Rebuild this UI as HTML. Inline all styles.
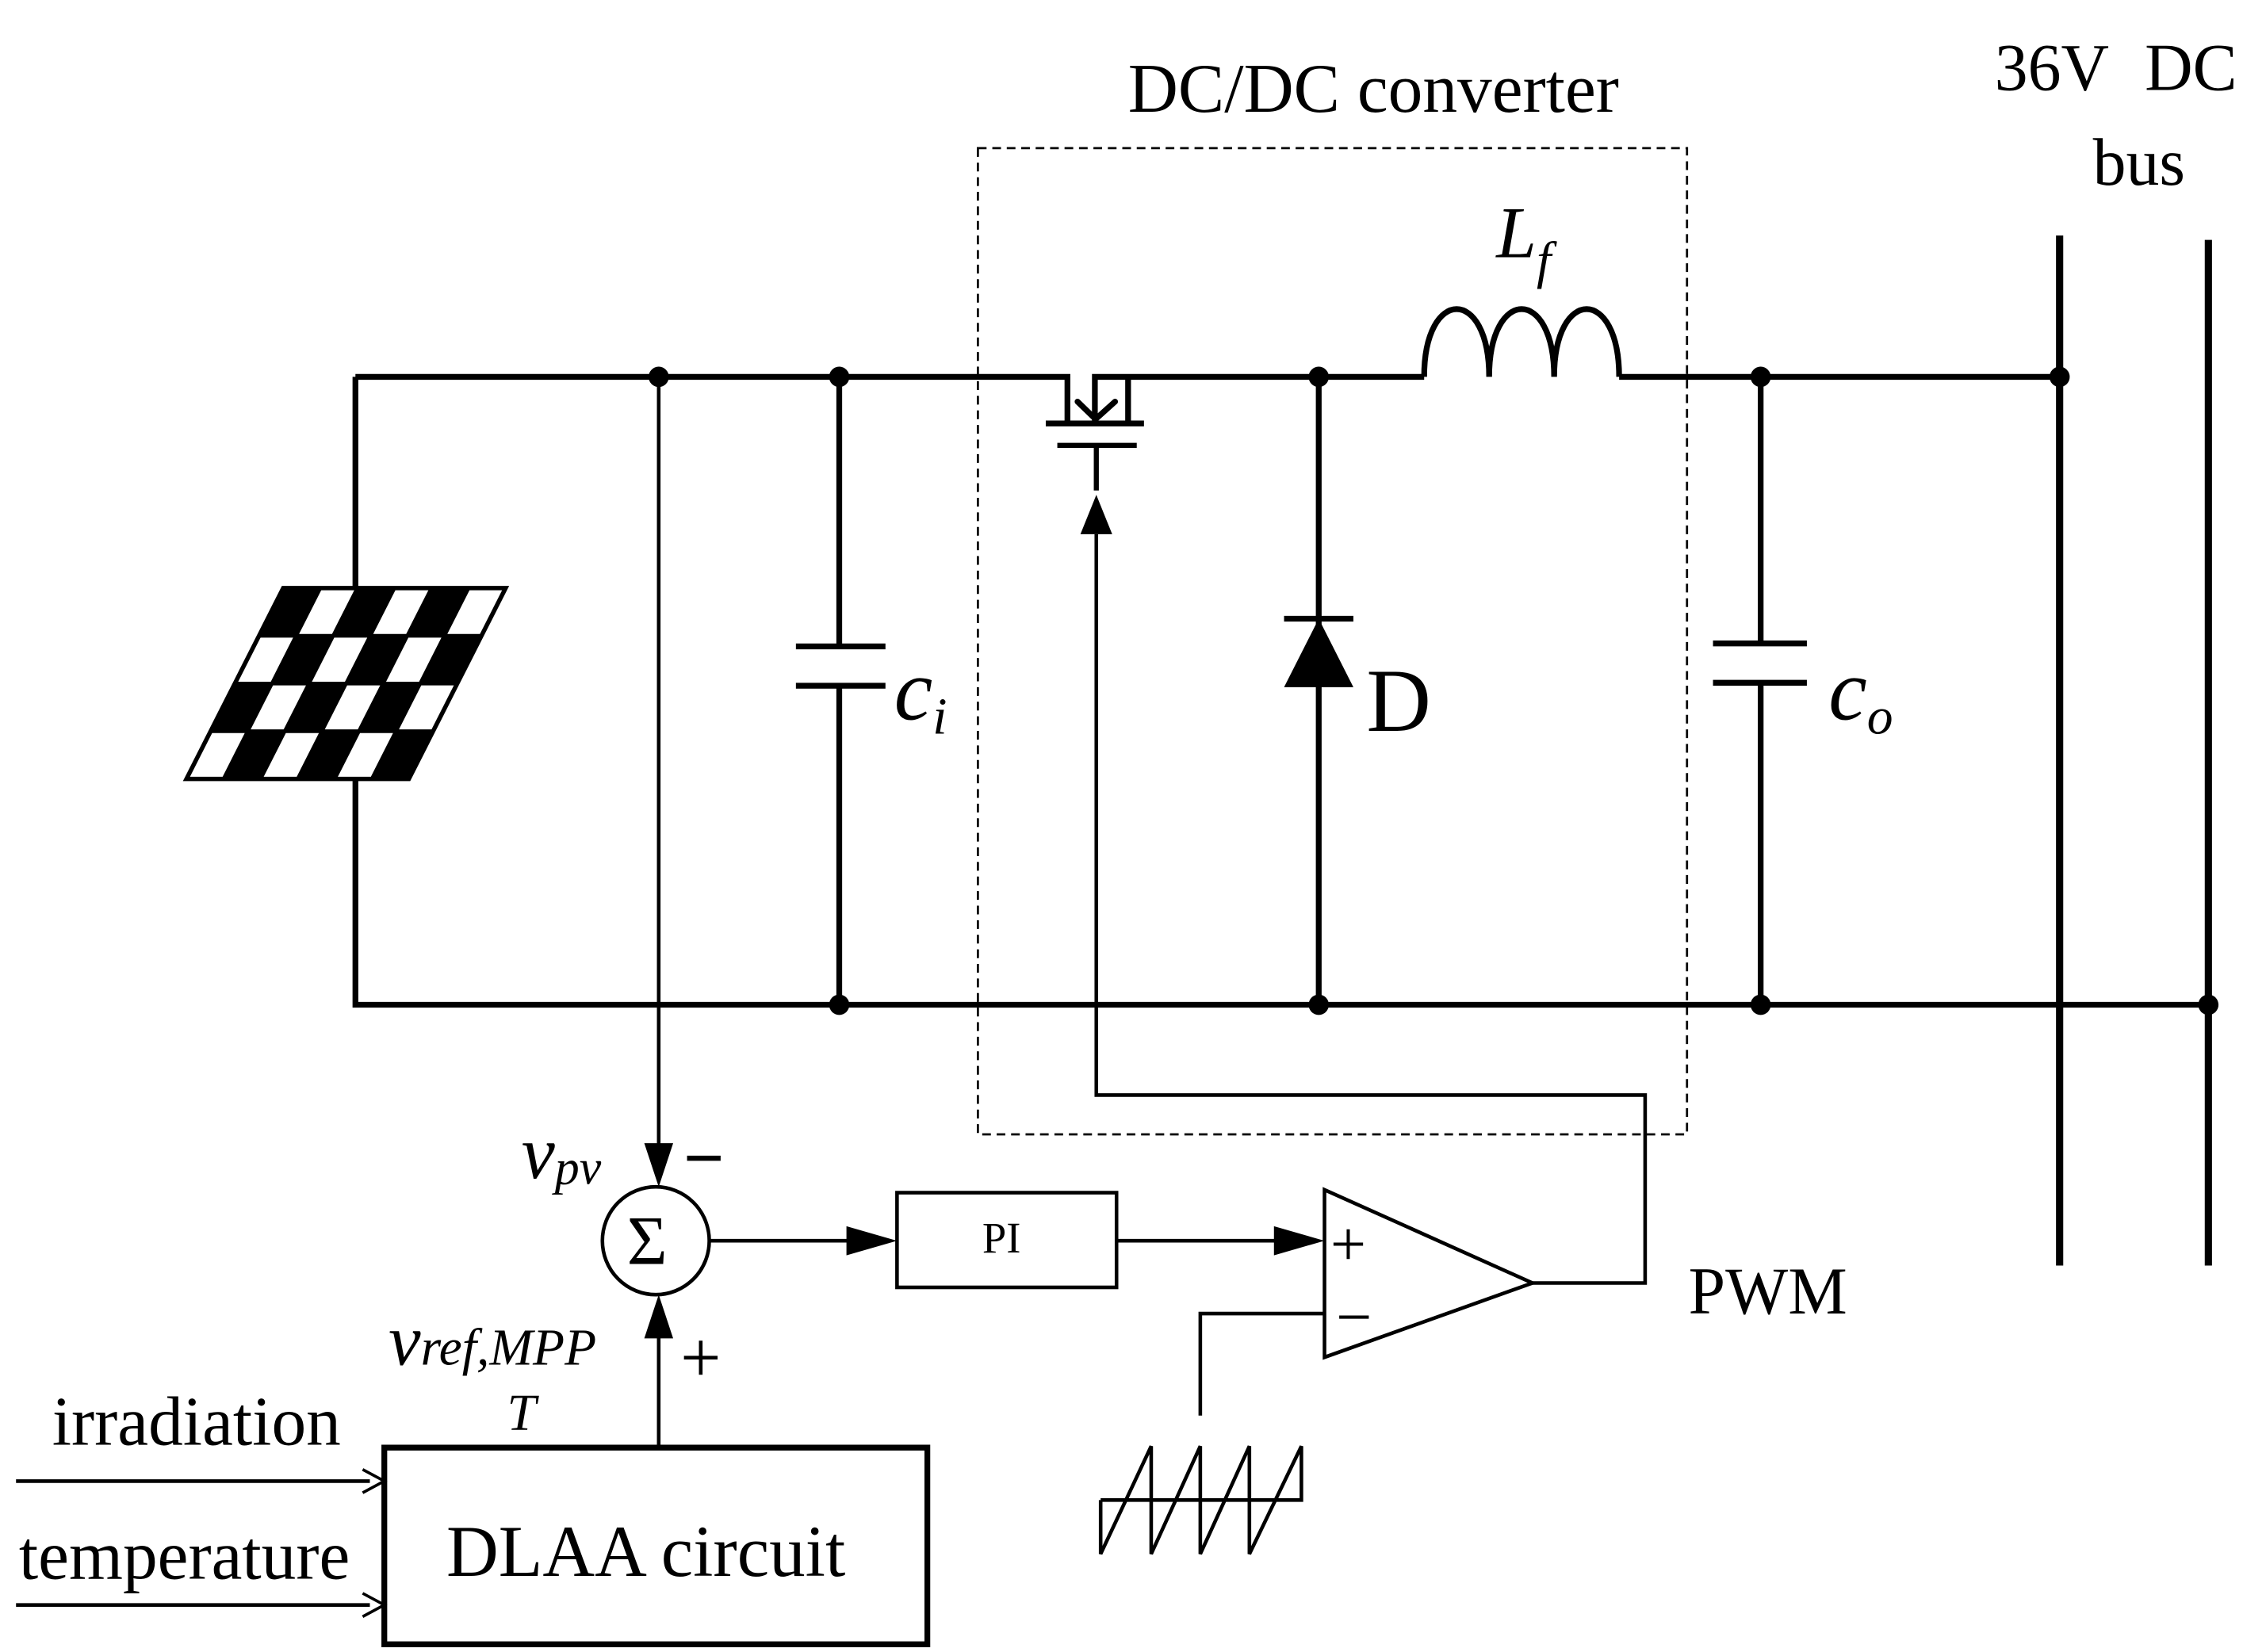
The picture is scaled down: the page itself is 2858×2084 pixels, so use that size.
<!DOCTYPE html>
<html><head><style>html,body{margin:0;padding:0;background:#fff}svg{display:block}</style></head><body>
<svg width="2858" height="2084" viewBox="-1.1 3.3 1569 1134" preserveAspectRatio="none" xmlns="http://www.w3.org/2000/svg" font-family="Liberation Serif, serif">
<g stroke="#000" stroke-width="4" fill="none">
<path d="M245,262 V406 M245,538 V693 H1528 M245,262 H738 V294 M723,294 H791 M780,294 V262 M757,294 V262 H912 H985"/>
<path d="M1120,262 H1425"/>
<path d="M985,262 C985,200 1030,200 1030,262 C1030,200 1075,200 1075,262 C1075,200 1120,200 1120,262"/>
<path d="M731,309 H786 M758,309 V340" stroke-width="3.5"/>
<path d="M758,370 V755 H1138 V884 H1060" stroke-width="2.5"/>
<path d="M745,279 L757.5,291 L771,279" stroke-width="4" stroke-linecap="round"/>
<path d="M580,262 V447 M550,447 H612 M550,474 H612 M580,474 V693"/>
<path d="M912,262 V693 M888,428 H936"/>
<path d="M1218,262 V445 M1185,445 H1250 M1185,472 H1250 M1218,472 V693"/>
<path d="M1425,165 V872 M1528,168 V872" stroke-width="5"/>
</g>
<polygon points="912,428 888,475 936,475" fill="#000"/>
<polygon points="758,343 747,370 769,370" fill="#000"/>
<g fill="#000"><circle cx="455" cy="262" r="7"/><circle cx="580" cy="262" r="7"/><circle cx="912" cy="262" r="7"/><circle cx="1218" cy="262" r="7"/><circle cx="1425" cy="262" r="7"/><circle cx="580" cy="693" r="7"/><circle cx="912" cy="693" r="7"/><circle cx="1218" cy="693" r="7"/><circle cx="1528" cy="693" r="7"/></g>
<rect x="676" y="105" width="491" height="677" fill="none" stroke="#000" stroke-width="1.5" stroke-dasharray="6,4"/>
<polygon points="195,407 349,407 282,538 128,538" fill="#000"/>
<g fill="#fff" stroke="#000" stroke-width="2.5">
<polygon points="220.67,407 246.33,407 229.58,439.75 203.92,439.75"/>
<polygon points="272,407 297.67,407 280.92,439.75 255.25,439.75"/>
<polygon points="323.33,407 349,407 332.25,439.75 306.58,439.75"/>
<polygon points="178.25,439.75 203.92,439.75 187.17,472.5 161.5,472.5"/>
<polygon points="229.58,439.75 255.25,439.75 238.5,472.5 212.83,472.5"/>
<polygon points="280.92,439.75 306.58,439.75 289.83,472.5 264.17,472.5"/>
<polygon points="187.17,472.5 212.83,472.5 196.08,505.25 170.42,505.25"/>
<polygon points="238.5,472.5 264.17,472.5 247.42,505.25 221.75,505.25"/>
<polygon points="289.83,472.5 315.5,472.5 298.75,505.25 273.08,505.25"/>
<polygon points="144.75,505.25 170.42,505.25 153.67,538 128,538"/>
<polygon points="196.08,505.25 221.75,505.25 205,538 179.33,538"/>
<polygon points="247.42,505.25 273.08,505.25 256.33,538 230.67,538"/>
</g>
<polygon points="195,407 349,407 282,538 128,538" fill="none" stroke="#000" stroke-width="3"/>
<g stroke="#000" stroke-width="2.5" fill="none">
<path d="M455,262 V800"/>
<circle cx="453" cy="855" r="37"/>
<path d="M455,995 V910"/>
<path d="M490,855 H588"/>
<rect x="620" y="822" width="152" height="65"/>
<path d="M772,855 H885"/>
<polygon points="916,820 916,935 1060,884"/>
<path d="M830,975 V905 H916"/>
<path d="M761,1033 V1070 L796,996 V1070 L830,996 V1070 L864,996 V1070 L900,996 V1033 H761"/>
<path d="M10,1020 H255 M10,1105 H255"/>
<path d="M250,1012 L265,1020 L250,1028 M250,1097 L265,1105 L250,1113" stroke-width="2"/>
</g>
<rect x="265" y="997" width="376" height="135" fill="none" stroke="#000" stroke-width="4"/>
<g fill="#000">
<polygon points="455,818 445,788 465,788"/>
<polygon points="455,892 445,922 465,922"/>
<polygon points="620,855 585,845 585,865"/>
<polygon points="916,855 881,845 881,865"/>
</g>
<g fill="#000">
<text x="780" y="80" font-size="48">DC/DC converter</text>
<text x="1380" y="65" font-size="46">36V</text>
<text x="1484" y="65" font-size="46">DC</text>
<text x="1448" y="130" font-size="46">bus</text>
<text x="1035" y="180" font-size="50" font-style="italic">L<tspan font-size="36" dy="14">f</tspan></text>
<text x="618" y="497" font-size="60" font-style="italic">c<tspan font-size="36" dy="10">i</tspan></text>
<text x="1265" y="497" font-size="60" font-style="italic">c<tspan font-size="36" dy="10">o</tspan></text>
<text x="945" y="505" font-size="62">D</text>
<text x="360" y="812" font-size="52" font-style="italic">v<tspan font-size="34" dy="4">pv</tspan></text>
<text x="472" y="815" font-size="50" font-weight="bold">−</text>
<text x="433" y="871" font-size="48">Σ</text>
<text x="470" y="952" font-size="50">+</text>
<text x="268" y="940" font-size="50" font-style="italic">v<tspan font-size="36">ref,MPP</tspan></text>
<text x="350" y="985" font-size="36" font-style="italic">T</text>
<text x="679" y="863" font-size="30">PI</text>
<text x="920" y="872" font-size="44">+</text>
<text x="924" y="922" font-size="44">−</text>
<text x="1168" y="905" font-size="46">PWM</text>
<text x="35" y="995" font-size="48">irradiation</text>
<text x="12" y="1087" font-size="48">temperature</text>
<text x="308" y="1085" font-size="50">DLAA circuit</text>
</g>
</svg>
</body></html>
